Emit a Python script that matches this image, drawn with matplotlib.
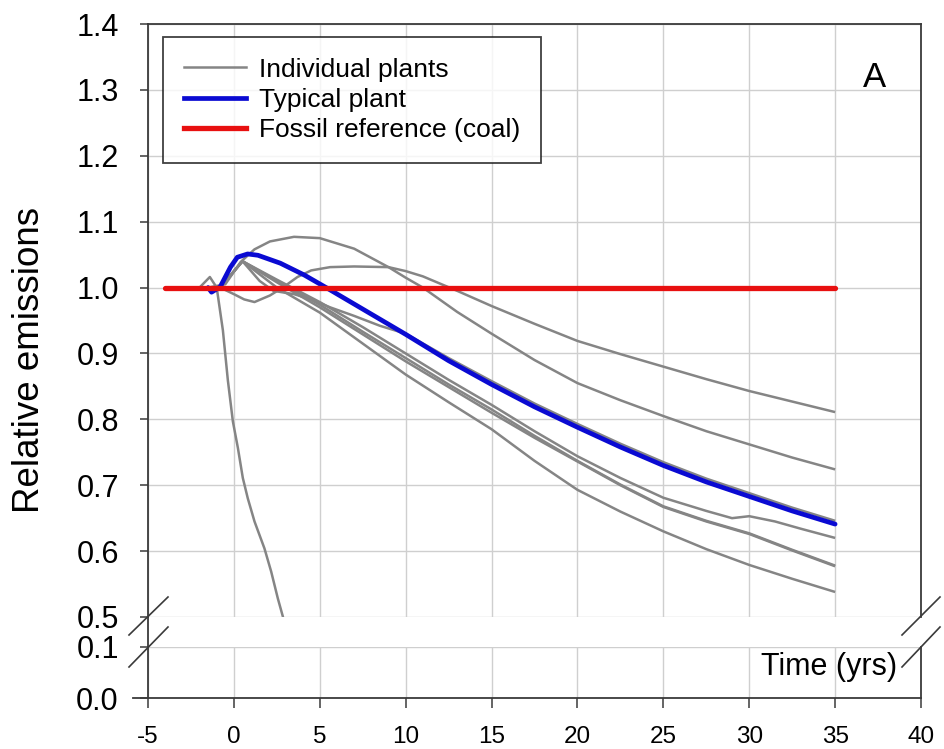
import matplotlib
matplotlib.use("Agg")
import matplotlib.pyplot as plt
from matplotlib.lines import Line2D

plt.rcParams["font.family"] = ["Liberation Sans", "DejaVu Sans"]

# typical plant (blue)
typical_x = [-1.5, -1.3, -0.8, -0.2, 0.2, 0.8, 1.4, 2.7, 4.1, 5.5, 7, 8.5, 10, 12.5, 15, 17.5, 20, 22.5, 25, 27.5, 30, 32.5, 35]
typical_y = [1.0, 0.993, 1.001, 1.031, 1.046, 1.051, 1.049, 1.037, 1.019, 0.998, 0.975, 0.952, 0.929, 0.889, 0.853, 0.819, 0.788, 0.758, 0.730, 0.705, 0.683, 0.661, 0.641]

# fossil reference (red)
coal_x = [-4, 35]
coal_y = [1.0, 1.0]

# individual plants (grey)
plant_a_x = [-1.5, -0.8, 0, 0.6, 1.2, 2.1, 2.9, 3.7, 4.5, 5.6, 7, 9, 10, 11, 13, 15, 17.5, 20, 22.5, 25, 27.5, 30, 32.5, 35]
plant_a_y = [1.0, 1.0, 0.99, 0.982, 0.978, 0.988, 1.001, 1.016, 1.026, 1.031, 1.032, 1.031, 1.025, 1.017, 0.995, 0.972, 0.945, 0.919, 0.899, 0.880, 0.861, 0.843, 0.827, 0.811]

plant_b_x = [-1.5, -0.5, 0.4, 1.2, 2.1, 3.5, 5, 7, 9, 10, 11, 13, 15, 17.5, 20, 22.5, 25, 27.5, 30, 32.5, 35]
plant_b_y = [1.0, 1.005, 1.039, 1.058, 1.07, 1.077, 1.075, 1.059, 1.031, 1.015, 1.0, 0.963, 0.93, 0.89, 0.855, 0.829, 0.805, 0.782, 0.762, 0.742, 0.724]

plant_c_x = [-1.5, -0.8, 0.5, 1.5, 2.3, 3.5, 4.5, 5.6, 7, 8.5, 10, 12.5, 15, 17.5, 20, 22.5, 25, 27.5, 30, 32.5, 35]
plant_c_y = [1.0, 1.0, 1.04, 1.01, 0.995, 0.99, 0.982, 0.97, 0.957, 0.942, 0.93, 0.893, 0.858, 0.824, 0.793, 0.763, 0.735, 0.710, 0.688, 0.666, 0.646]

plant_d_x = [-1.5, -0.8, 0.5, 2.5, 5, 7.5, 10, 12.5, 15, 17.5, 20, 22.5, 25, 27.5, 29, 30, 31.5, 33, 35]
plant_d_y = [1.0, 1.0, 1.04, 1.012, 0.978, 0.94, 0.90, 0.86, 0.822, 0.782, 0.744, 0.711, 0.681, 0.661, 0.650, 0.653, 0.645, 0.634, 0.620]

plant_e_x = [-1.5, -0.8, 0.5, 2.5, 5, 7.5, 10, 12.5, 15, 17.5, 20, 22.5, 25, 27.5, 30, 32.5, 35]
plant_e_y = [1.0, 1.0, 1.04, 1.01, 0.974, 0.933, 0.893, 0.853, 0.815, 0.775, 0.737, 0.701, 0.668, 0.646, 0.627, 0.602, 0.578]

plant_g_x = [-1.5, -0.8, 0.5, 2.5, 5, 7.5, 10, 12.5, 15, 17.5, 20, 22.5, 25, 27.5, 30, 32.5, 35]
plant_g_y = [1.0, 1.0, 1.04, 1.008, 0.97, 0.929, 0.888, 0.849, 0.810, 0.772, 0.736, 0.700, 0.667, 0.645, 0.626, 0.601, 0.577]

plant_f_x = [-1.5, -0.8, 0.5, 2.5, 5, 7.5, 10, 12.5, 15, 17.5, 20, 22.5, 25, 27.5, 30, 32.5, 35]
plant_f_y = [1.0, 1.0, 1.04, 1.0, 0.962, 0.915, 0.868, 0.826, 0.785, 0.737, 0.693, 0.660, 0.630, 0.603, 0.579, 0.558, 0.538]

plant_h_x = [-2, -1.4, -1.0, -0.64, -0.35, -0.06, 0.23, 0.52, 0.81, 1.2, 1.78, 2.17, 2.56, 2.89, 3.2]
plant_h_y = [1.0, 1.016, 1.0, 0.935, 0.859, 0.797, 0.757, 0.711, 0.68, 0.645, 0.604, 0.569, 0.528, 0.497, 0.47]

plants = [
    (plant_a_x, plant_a_y), (plant_b_x, plant_b_y), (plant_c_x, plant_c_y),
    (plant_d_x, plant_d_y), (plant_e_x, plant_e_y), (plant_g_x, plant_g_y),
    (plant_f_x, plant_f_y), (plant_h_x, plant_h_y),
]

x_ticks = [-5, 0, 5, 10, 15, 20, 25, 30, 35, 40]
upper_ticks = [0.5, 0.6, 0.7, 0.8, 0.9, 1.0, 1.1, 1.2, 1.3, 1.4]
lower_ticks = [0.0, 0.1]

GREY = "#858585"
BLUE = "#0a0ad2"
RED = "#e81010"
SPINE = "#3a3a3a"
GRID = "#cfcfcf"

W, H = 945, 749
fig = plt.figure(figsize=(W / 100, H / 100), dpi=100)

def fx(px):
    return px / W

def fy(py):
    return 1 - py / H

left, right = 148, 921
ax = fig.add_axes([fx(left), fy(617), fx(right) - fx(left), fy(24) - fy(617)])
ax2 = fig.add_axes([fx(left), fy(698), fx(right) - fx(left), fy(647) - fy(698)])

for a in (ax, ax2):
    a.set_xlim(-5, 40)
    a.set_xticks(x_ticks)
    a.grid(True, color=GRID, linewidth=1.0)
    a.set_axisbelow(True)
    for s in a.spines.values():
        s.set_color(SPINE)
        s.set_linewidth(1.3)
    a.tick_params(axis="y", direction="out", length=6, width=1.1, color=SPINE,
                  labelsize=22, pad=15, right=False)

ax.set_ylim(0.5, 1.4)
ax.set_yticks(upper_ticks)
ax.set_yticklabels([f"{v:.1f}" for v in upper_ticks])
ax.tick_params(axis="x", bottom=False, labelbottom=False)
ax.spines["bottom"].set_visible(False)

ax2.set_ylim(0.0, 0.1)
ax2.set_yticks(lower_ticks)
ax2.set_yticklabels([f"{v:.1f}" for v in lower_ticks])
ax2.set_xticklabels([str(v) for v in x_ticks])
ax2.tick_params(axis="x", direction="out", length=7, width=1.1, color=SPINE,
                labelsize=17.5, pad=13)
ax2.spines["top"].set_visible(False)

for px, py in plants:
    ax.plot(px, py, color=GREY, linewidth=1.8, solid_capstyle="butt")
ax.plot(typical_x, typical_y, color=BLUE, linewidth=3.4, solid_capstyle="round")
ax.plot(coal_x, coal_y, color=RED, linewidth=3.8, solid_capstyle="round")

handles = [
    Line2D([], [], color=GREY, linewidth=1.8),
    Line2D([], [], color=BLUE, linewidth=3.4),
    Line2D([], [], color=RED, linewidth=3.8),
]
leg = ax.legend(handles, ["Individual plants", "Typical plant", "Fossil reference (coal)"],
                loc="upper left", bbox_to_anchor=(fx(163), fy(37)), bbox_transform=fig.transFigure,
                fontsize=19, frameon=True, fancybox=False, borderpad=0.78,
                labelspacing=0.24, handlelength=2.35, handletextpad=0.5, borderaxespad=0)
leg.get_frame().set_edgecolor("#111111")
leg.get_frame().set_linewidth(1.3)

ax.text(0.94, 0.91, "A", transform=ax.transAxes, fontsize=25, ha="center", va="center")
fig.text(fx(30), fy(360), "Relative emissions", rotation=90, fontsize=26.5, ha="center", va="center")

ax2.text(fx(897), fy(667), "Time (yrs)", transform=fig.transFigure, fontsize=22,
         ha="right", va="center")

# axis break marks and the spine piece through the gap
for x0, x1 in ((129, 168), (902, 940)):
    fig.add_artist(Line2D([fx(x0), fx(x1)], [fy(635), fy(597)], color=SPINE, linewidth=1.2))
    fig.add_artist(Line2D([fx(x0), fx(x1)], [fy(667), fy(627)], color=SPINE, linewidth=1.2))
fig.add_artist(Line2D([fx(left), fx(left)], [fy(617), fy(647)], color=SPINE, linewidth=1.3))
fig.add_artist(Line2D([fx(133), fx(left)], [fy(698), fy(698)], color=SPINE, linewidth=1.3))

fig.savefig("out.png", dpi=100, facecolor="white")
